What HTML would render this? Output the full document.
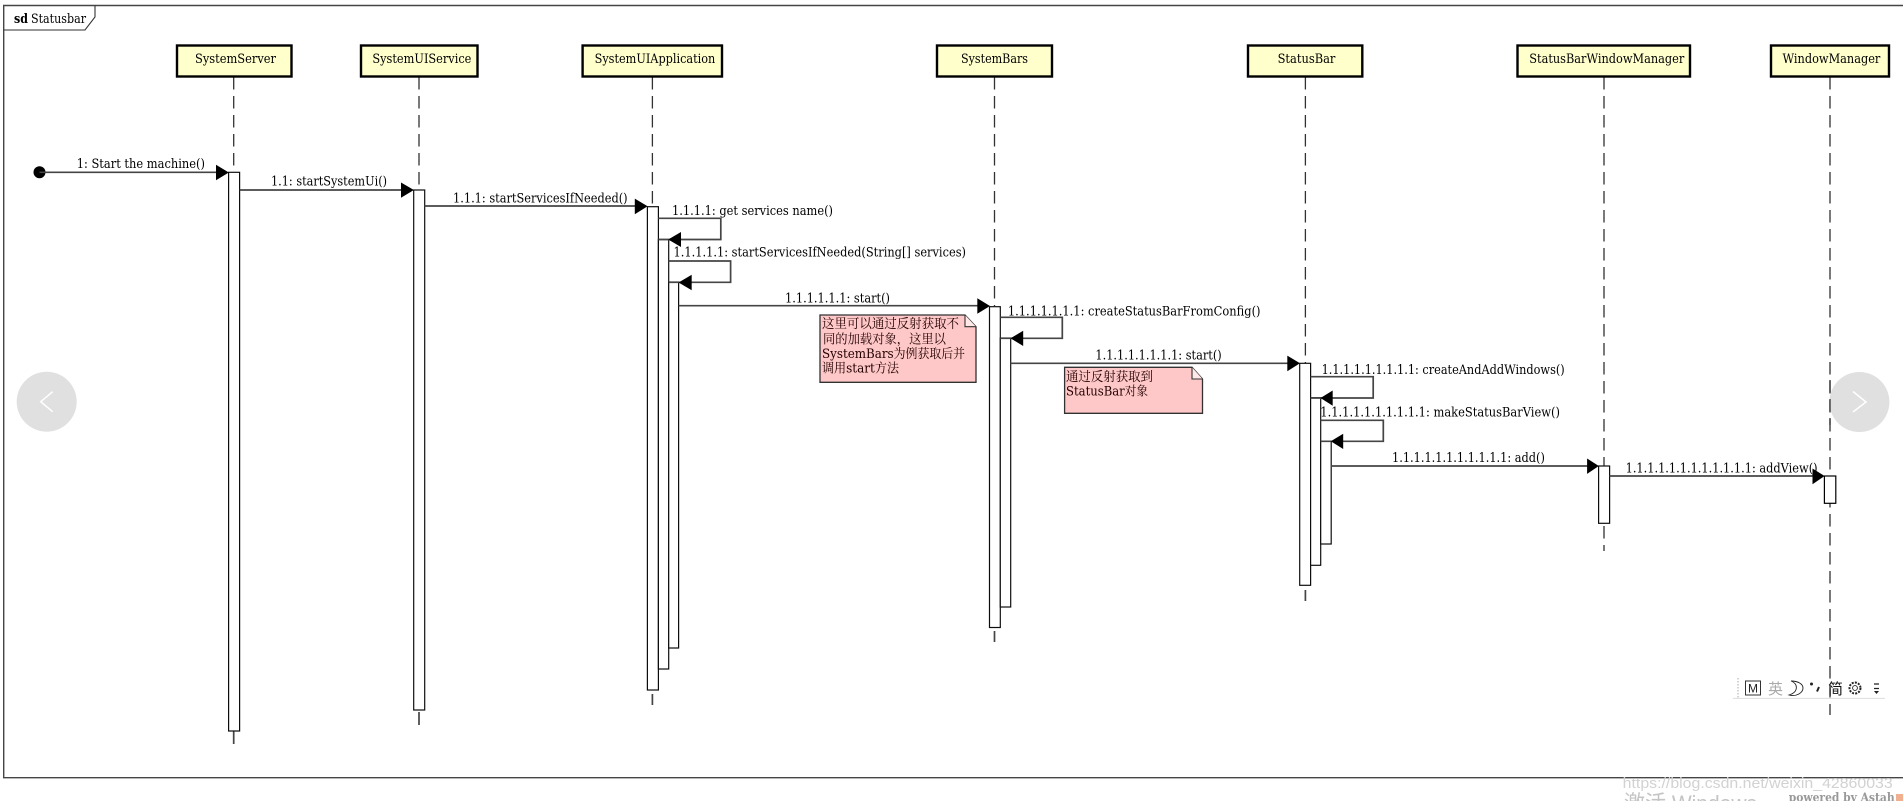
<!DOCTYPE html>
<html lang="zh"><head><meta charset="utf-8"><title>Statusbar</title>
<style>
html,body{margin:0;padding:0;background:#fff;width:1903px;height:801px;overflow:hidden}
svg{display:block}
text{font-family:"DejaVu Serif","Liberation Serif","Noto Serif CJK SC",serif;font-size:13px;fill:#000}
.cjk{font-family:"DejaVu Serif","Noto Serif CJK SC",serif;font-size:13px;fill:#200}
.h{fill:#ffffcc;stroke:#000;stroke-width:2.4}
.a{fill:#fff;stroke:#111;stroke-width:1.2}
.l{stroke:#333;stroke-width:1.3;stroke-dasharray:12.5 6.5;fill:none}
.m{stroke:#444;stroke-width:1.7;fill:none}
.n{fill:#ffc8c8;stroke:#333;stroke-width:1.3}
</style></head><body>
<svg width="1903" height="801" viewBox="0 0 1903 801" xmlns="http://www.w3.org/2000/svg">
<defs><filter id="b" x="-2%" y="-2%" width="104%" height="104%"><feGaussianBlur stdDeviation="0.3"/></filter></defs>
<rect width="1903" height="801" fill="#fff"/>
<g filter="url(#b)">
<!-- frame -->
<path d="M1903 5.5H3.7V777.7H1903" fill="none" stroke="#444" stroke-width="1.4"/>
<path d="M3.7 30H85L95 17V5.5" fill="none" stroke="#333" stroke-width="1.1"/>
<text x="14" y="23" style="font-weight:bold" textLength="14" lengthAdjust="spacingAndGlyphs">sd</text>
<text x="31" y="23" textLength="55" lengthAdjust="spacingAndGlyphs">Statusbar</text>

<!-- lifelines -->
<path class="l" d="M233.7 77V172"/>
<path class="l" d="M419 77V190"/>
<path class="l" d="M652.4 77V206"/>
<path class="l" d="M994.5 77V306"/>
<path class="l" d="M1305.4 77V363"/>
<path class="l" d="M1604 77V466"/>
<path class="l" d="M1830 77V715"/>
<path d="M233.7 731V744" class="m"/>
<path d="M419 712V725" class="m"/>
<path d="M652.4 694V705" class="m"/>
<path d="M994.5 631V642" class="m"/>
<path d="M1305.4 590V601" class="m"/>
<path d="M1604 526V551" class="l"/>

<!-- heads -->
<rect class="h" x="177" y="45.5" width="114.5" height="31"/>
<rect class="h" x="361" y="45.5" width="116.5" height="31"/>
<rect class="h" x="582.6" y="45.5" width="139.4" height="31"/>
<rect class="h" x="937" y="45.5" width="115" height="31"/>
<rect class="h" x="1248" y="45.5" width="114.3" height="31"/>
<rect class="h" x="1517.5" y="45.5" width="172.5" height="31"/>
<rect class="h" x="1771" y="45.5" width="118" height="31"/>
<text x="195" y="63" textLength="81" lengthAdjust="spacingAndGlyphs">SystemServer</text>
<text x="372.4" y="63" textLength="99" lengthAdjust="spacingAndGlyphs">SystemUIService</text>
<text x="594.6" y="63" textLength="120.7" lengthAdjust="spacingAndGlyphs">SystemUIApplication</text>
<text x="961" y="63" textLength="67" lengthAdjust="spacingAndGlyphs">SystemBars</text>
<text x="1277.6" y="63" textLength="57.8" lengthAdjust="spacingAndGlyphs">StatusBar</text>
<text x="1529.3" y="63" textLength="155" lengthAdjust="spacingAndGlyphs">StatusBarWindowManager</text>
<text x="1782.5" y="63" textLength="97.8" lengthAdjust="spacingAndGlyphs">WindowManager</text>

<!-- activations -->
<rect class="a" x="228.6" y="172.3" width="11" height="558.7"/>
<rect class="a" x="413.7" y="190" width="11" height="520"/>
<rect class="a" x="647.4" y="206.7" width="11" height="483.3"/>
<rect class="a" x="658.4" y="239.5" width="10.3" height="429.5"/>
<rect class="a" x="668.7" y="282" width="9.9" height="366"/>
<rect class="a" x="989.5" y="306.7" width="10.8" height="320.8"/>
<rect class="a" x="1000.3" y="338" width="10.4" height="269"/>
<rect class="a" x="1299.7" y="363.3" width="10.9" height="222"/>
<rect class="a" x="1310.6" y="397.7" width="10.1" height="167.6"/>
<rect class="a" x="1320.7" y="441.3" width="10.5" height="102.7"/>
<rect class="a" x="1598.6" y="466" width="11" height="57.3"/>
<rect class="a" x="1824.4" y="476" width="11.4" height="27.3" style="stroke:#000"/>

<!-- messages -->
<circle cx="39.5" cy="172.3" r="6" fill="#000"/>
<path class="m" d="M39.5 172.3H220"/><polygon points="216,164.8 228.8,172.5 216,180.2"/>
<text x="76.7" y="168" textLength="128.3" lengthAdjust="spacingAndGlyphs">1: Start the machine()</text>

<path class="m" d="M239.7 190H404"/><polygon points="401,182.5 413.9,190 401,197.7"/>
<text x="271" y="185.7" textLength="116" lengthAdjust="spacingAndGlyphs">1.1: startSystemUi()</text>

<path class="m" d="M424.7 206H638"/><polygon points="634.8,198.6 647.6,206.3 634.8,214.2"/>
<text x="453" y="202.7" textLength="174.6" lengthAdjust="spacingAndGlyphs">1.1.1: startServicesIfNeeded()</text>

<path class="m" d="M658.4 218.3H720.8V239.5H658.4"/><polygon points="681,232 668.2,239.5 681,247"/>
<text x="672" y="215" textLength="161" lengthAdjust="spacingAndGlyphs">1.1.1.1: get services name()</text>

<path class="m" d="M668.7 261H730.6V282.3H668.7"/><polygon points="691.7,274.8 678.6,282.5 691.7,290.2"/>
<text x="673.5" y="256.7" textLength="292.5" lengthAdjust="spacingAndGlyphs">1.1.1.1.1: startServicesIfNeeded(String[] services)</text>

<path class="m" d="M678.6 305.7H980"/><polygon points="977.3,298.2 990,306 977.3,313.7"/>
<text x="785" y="302.7" textLength="105" lengthAdjust="spacingAndGlyphs">1.1.1.1.1.1: start()</text>

<path class="m" d="M1000.3 317.3H1062.3V338.3H1000.3"/><polygon points="1023.2,330.8 1010.5,338.3 1023.2,346"/>
<text x="1007.9" y="315.7" textLength="252.6" lengthAdjust="spacingAndGlyphs">1.1.1.1.1.1.1: createStatusBarFromConfig()</text>

<path class="m" d="M1010.7 363.3H1290"/><polygon points="1287.3,355.6 1300,363.3 1287.3,371.2"/>
<text x="1095.4" y="359.3" textLength="126.3" lengthAdjust="spacingAndGlyphs">1.1.1.1.1.1.1.1: start()</text>

<path class="m" d="M1310.6 376.7H1373.2V398H1310.6"/><polygon points="1332.7,390.5 1320.5,398 1332.7,405.7"/>
<text x="1321.6" y="374" textLength="243.1" lengthAdjust="spacingAndGlyphs">1.1.1.1.1.1.1.1.1: createAndAddWindows()</text>

<path class="m" d="M1320.7 420.3H1383.3V441.3H1320.7"/><polygon points="1343.2,433.8 1330.8,441.3 1343.2,449"/>
<text x="1320.3" y="416.3" textLength="239.7" lengthAdjust="spacingAndGlyphs">1.1.1.1.1.1.1.1.1.1: makeStatusBarView()</text>

<path class="m" d="M1331 466H1590"/><polygon points="1587.1,458.5 1598.8,466 1587.1,473.9"/>
<text x="1392" y="462" textLength="152.9" lengthAdjust="spacingAndGlyphs">1.1.1.1.1.1.1.1.1.1.1: add()</text>

<path class="m" d="M1609.6 476H1815"/><polygon points="1812.5,468.5 1824.6,476 1812.5,484.2"/>
<text x="1625.6" y="472.3" textLength="192" lengthAdjust="spacingAndGlyphs">1.1.1.1.1.1.1.1.1.1.1.1: addView()</text>

<!-- notes -->
<path class="n" d="M820 315H965L976 326.7V382.3H820Z"/>
<path d="M965 315V326.7H976" fill="#ffe8e8" stroke="#333" stroke-width="1.1"/>
<text class="cjk" x="822" y="328" textLength="137" lengthAdjust="spacingAndGlyphs">这里可以通过反射获取不</text>
<text class="cjk" x="823" y="343.3" textLength="123" lengthAdjust="spacingAndGlyphs">同的加载对象，这里以</text>
<text class="cjk" x="822" y="358" textLength="143" lengthAdjust="spacingAndGlyphs">SystemBars为例获取后并</text>
<text class="cjk" x="822" y="372.7" textLength="77" lengthAdjust="spacingAndGlyphs">调用start方法</text>

<path class="n" d="M1064.6 367.3H1192L1202.5 379V413.3H1064.6Z"/>
<path d="M1192 367.3V379H1202.5" fill="#ffe8e8" stroke="#333" stroke-width="1.1"/>
<text class="cjk" x="1066" y="381" textLength="87" lengthAdjust="spacingAndGlyphs">通过反射获取到</text>
<text class="cjk" x="1066" y="395.7" textLength="82" lengthAdjust="spacingAndGlyphs">StatusBar对象</text>

<!-- carousel buttons -->
<circle cx="46.7" cy="401.7" r="30" fill="#e0e0e0"/>
<path d="M52.7 391.7L40.7 401.7L52.7 411.7" fill="none" stroke="#fff" stroke-width="1.5"/>
<circle cx="1859.4" cy="402" r="30" fill="#e0e0e0"/>
<path d="M1853 391.5L1866 402L1853 412" fill="none" stroke="#fff" stroke-width="1.5"/>
<path class="l" d="M1830 380V425" />

<!-- IME toolbar -->
<path d="M1738 678V698" stroke="#aaa" stroke-width="1" stroke-dasharray="1.5 1.5"/>
<path d="M1733 698.4H1885" stroke="#ddd" stroke-width="1"/>
<rect x="1745.5" y="681" width="15" height="14" fill="#fff" stroke="#333" stroke-width="1"/>
<text x="1748" y="692.5" style="font-family:'Liberation Sans',sans-serif;font-size:12px;fill:#222">M</text>
<text x="1768" y="694" style="font-family:'Noto Sans CJK SC',sans-serif;font-size:15px;fill:#aaa">英</text>
<path d="M1791 681C1798 683 1799 692 1789 695C1796 697 1803 693 1803 688C1803 684 1798 681 1791 681Z" fill="#fff" stroke="#222" stroke-width="0.9"/>
<circle cx="1811.5" cy="684" r="1.5" fill="#222"/>
<path d="M1819 687L1817 691.5" stroke="#222" stroke-width="2"/>
<text x="1828" y="694" style="font-family:'Noto Sans CJK SC',sans-serif;font-size:15px;fill:#111">简</text>
<circle cx="1855" cy="688" r="5.5" fill="none" stroke="#222" stroke-width="2" stroke-dasharray="2 1.2"/>
<circle cx="1855" cy="688" r="2.4" fill="none" stroke="#222" stroke-width="0.9"/>
<path d="M1874 684H1879M1874 688.5H1879" stroke="#222" stroke-width="1.3"/>
<polygon points="1874,691 1879,691 1876.5,694" fill="#222"/>

<!-- watermarks -->
<text x="1622.7" y="788" textLength="270" lengthAdjust="spacingAndGlyphs" style="font-family:'Liberation Sans',sans-serif;font-size:15px;fill:#d2d2d2">https://blog.csdn.net/weixin_42860033</text>
<text x="1624" y="811" textLength="133" lengthAdjust="spacingAndGlyphs" style="font-family:'Liberation Sans','Noto Sans CJK SC',sans-serif;font-size:22px;fill:#c4c4c4">激活 Windows</text>
<text x="1788.7" y="801.5" textLength="106" lengthAdjust="spacingAndGlyphs" style="font-size:12.5px;fill:#999;font-weight:bold">powered by Astah</text>
<rect x="1896" y="794" width="7" height="7" fill="#f0b090"/>
</g>
</svg>
</body></html>
